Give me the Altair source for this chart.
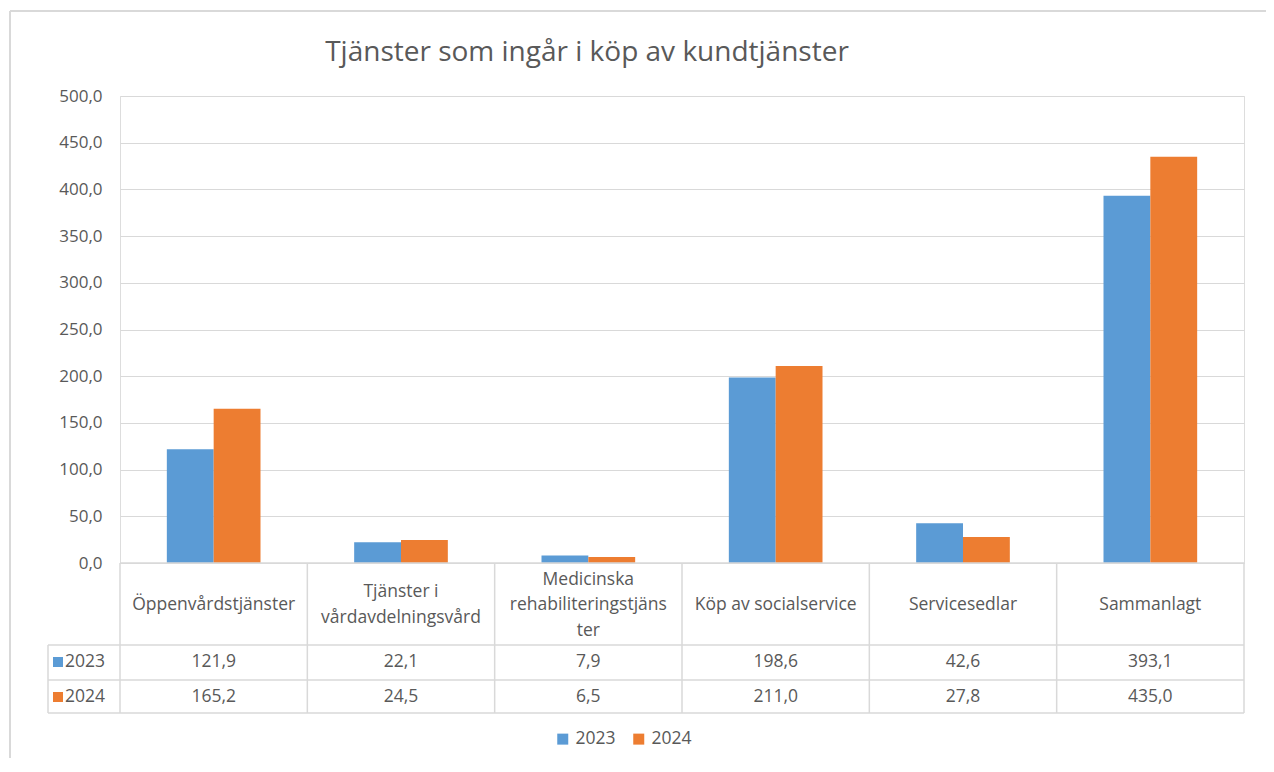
import altair as alt
import pandas as pd

TITLE = "Tjänster som ingår i köp av kundtjänster"
categories = ["Öppenvårdstjänster", "Tjänster i vårdavdelningsvård",
              "Medicinska rehabiliteringstjänster", "Köp av socialservice",
              "Servicesedlar", "Sammanlagt"]
category_lines = ["Öppenvårdstjänster", "Tjänster i\nvårdavdelningsvård",
                  "Medicinska\nrehabiliteringstjäns\nter", "Köp av socialservice",
                  "Servicesedlar", "Sammanlagt"]
years = ["2023", "2024"]
values_2023 = [121.9, 22.1, 7.9, 198.6, 42.6, 393.1]
values_2024 = [165.2, 24.5, 6.5, 211.0, 27.8, 435.0]
y_ticks = [0, 50, 100, 150, 200, 250, 300, 350, 400, 450, 500]
colors = ["#5b9bd5", "#ed7d31"]

FONT = "Open Sans"
TXT = "#595959"
GRID = "#d9d9d9"
W, H = 1124, 467
FS = 17.5

rows = []
for y, vals in zip(years, [values_2023, values_2024]):
    for c, v in zip(categories, vals):
        rows.append({"category": c, "year": y, "value": v,
                     "label": f"{v:.1f}".replace(".", ",")})
df = pd.DataFrame(rows)
hdr = pd.DataFrame({"category": categories, "lines": category_lines})
hdr["n"] = hdr["lines"].str.count("\n") + 1
one = pd.DataFrame({"k": [0]})

xcat = alt.X("category:N", sort=categories,
             scale=alt.Scale(paddingInner=0, paddingOuter=0), axis=None)
color = alt.Color("year:N", scale=alt.Scale(domain=years, range=colors),
                  legend=alt.Legend(title=None, orient="none", direction="horizontal",
                                    legendX=434, legendY=634, symbolType="square",
                                    symbolSize=121, symbolStrokeWidth=0,
                                    labelFontSize=FS, labelFont=FONT, labelColor=TXT,
                                    columnPadding=14, labelOffset=4))

bars = alt.Chart(df).mark_bar().encode(
    x=xcat,
    xOffset=alt.XOffset("year:N", sort=years,
                        scale=alt.Scale(paddingOuter=1, paddingInner=0)),
    y=alt.Y("value:Q", scale=alt.Scale(domain=[0, 500], nice=False),
            axis=alt.Axis(values=y_ticks, title=None, domain=False, ticks=False,
                          grid=True, gridColor=GRID, labelFont=FONT,
                          labelFontSize=17, labelColor=TXT, labelPadding=18,
                          labelExpr="replace(format(datum.value, '.1f'), '.', ',')")),
    color=color,
)

title = alt.Chart(pd.DataFrame({"t": [TITLE]})).mark_text(
    font=FONT, fontSize=28, color=TXT, align="center", baseline="alphabetic"
).encode(text="t:N", x=alt.value(467), y=alt.value(-35))

rule_style = dict(color=GRID, strokeWidth=1.5)
vlines = alt.Chart(hdr).mark_rule(**rule_style).encode(
    x=alt.X("category:N", sort=categories, bandPosition=0,
            scale=alt.Scale(paddingInner=0, paddingOuter=0), axis=None),
    y=alt.value(H), y2=alt.value(617))
vright = alt.Chart(one).mark_rule(**rule_style).encode(
    x=alt.value(W), y=alt.value(H), y2=alt.value(617))
vleft = alt.Chart(one).mark_rule(**rule_style).encode(
    x=alt.value(-72), y=alt.value(549), y2=alt.value(617))
htop = alt.Chart(one).mark_rule(**rule_style).encode(
    x=alt.value(0), x2=alt.value(W), y=alt.value(H))
hrows = [alt.Chart(one).mark_rule(**rule_style).encode(
    x=alt.value(-72), x2=alt.value(W), y=alt.value(yy)) for yy in (549, 584, 617)]

# outer frame (top and left visible)
frame_top = alt.Chart(one).mark_rule(color=GRID, strokeWidth=2).encode(
    x=alt.value(-110), x2=alt.value(W + 40), y=alt.value(-85))
frame_left = alt.Chart(one).mark_rule(color=GRID, strokeWidth=2).encode(
    x=alt.value(-110), y=alt.value(-85), y2=alt.value(H + 300))

LH = 25.5
header_layers = []
for n in sorted(hdr["n"].unique()):
    header_layers.append(alt.Chart(hdr[hdr.n == n]).mark_text(
        font=FONT, fontSize=FS, color=TXT, lineBreak="\n", lineHeight=LH,
        align="center", baseline="middle"
    ).encode(x=xcat, y=alt.value(509 - (n - 1) * LH / 2), text="lines:N"))

row_y = {"2023": 566, "2024": 601}
table_layers = []
for yr in years:
    sub = df[df.year == yr]
    table_layers.append(alt.Chart(sub).mark_text(
        font=FONT, fontSize=FS, color=TXT, align="center", baseline="middle"
    ).encode(x=xcat, y=alt.value(row_y[yr]), text="label:N"))
    key = pd.DataFrame({"year": [yr]})
    table_layers.append(alt.Chart(key).mark_point(
        shape="square", filled=True, size=100, opacity=1
    ).encode(x=alt.value(-62), y=alt.value(row_y[yr]), color=color))
    table_layers.append(alt.Chart(key).mark_text(
        font=FONT, fontSize=FS, color=TXT, align="left", baseline="middle"
    ).encode(x=alt.value(-55), y=alt.value(row_y[yr]), text="year:N"))

chart = alt.layer(
    frame_top, frame_left, bars, title, htop, *hrows, vlines, vright, vleft,
    *header_layers, *table_layers
).properties(
    width=W, height=H,
    autosize=alt.AutoSizeParams(type="none"),
    padding={"left": 112, "top": 88, "right": 22, "bottom": 195},
).configure_view(stroke=None).configure(background="white")

chart.save("out.html", embed_options={"renderer": "svg", "actions": False})
